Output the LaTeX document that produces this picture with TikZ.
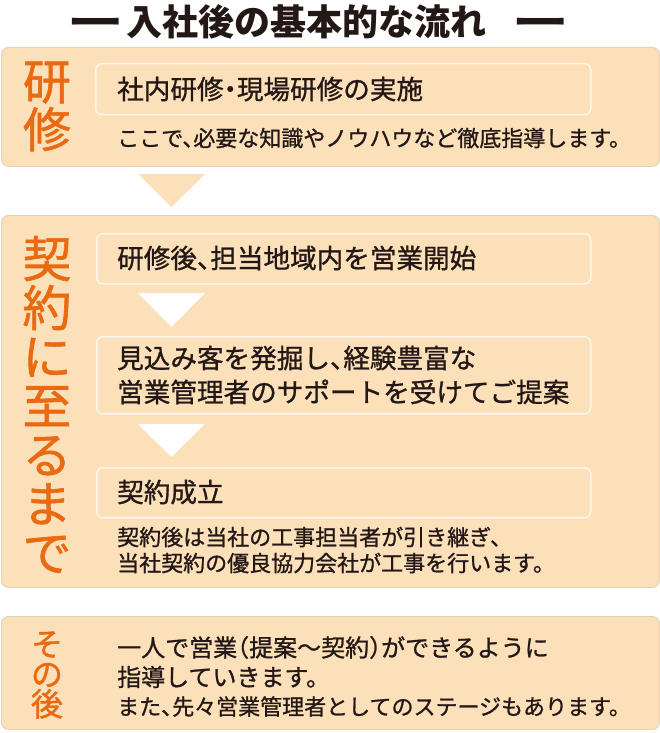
\documentclass[tikz,border=0pt]{standalone}
\usepackage{graphicx}
\usepackage{fontspec}
\newfontfamily\jp{Noto Sans CJK JP}
\newfontfamily\jpm{Noto Sans CJK JP}[FakeBold=1.0, RawFeature=+halt]
\newfontfamily\jpl{Noto Sans CJK JP}[FakeBold=1.2]
\definecolor{peach}{HTML}{FCE0BA}
\definecolor{edgec}{HTML}{E4D2BA}
\definecolor{orangec}{HTML}{EA6A12}
\definecolor{textc}{HTML}{231815}
\definecolor{innerline}{HTML}{FFF6EA}
\newcommand{\titlebar}{\scalebox{1.57}[1]{ー}}
\tikzset{
  outerbox/.style={draw=edgec, line width=0.9pt, fill=peach, rounded corners=7pt,
    anchor=north west, inner sep=0pt},
  innerbox/.style={draw=innerline, line width=1.5pt, fill=peach, rounded corners=6pt,
    anchor=north west, inner sep=0pt},
  sidelabel/.style={text=orangec, align=center, inner sep=0pt, anchor=center},
  boxtext/.style={text=textc, anchor=base west, inner sep=0pt,
    font=\jpm\fontsize{26.6}{26.6}\selectfont},
  subtext/.style={text=textc, anchor=base west, inner sep=0pt,
    font=\jpm\fontsize{22}{22}\selectfont},
  bigtext/.style={text=textc, anchor=base west, inner sep=0pt,
    font=\jpm\fontsize{24}{24}\selectfont},
  peachtri/.style={fill=peach},
  whitetri/.style={fill=white},
}
\begin{document}
\begin{tikzpicture}[x=1pt,y=-1pt]
\useasboundingbox[fill=white] (0,0) rectangle (660,733);

% title
\node[text=textc, inner sep=0pt, anchor=base west, font=\jp\bfseries\fontsize{36}{36}\selectfont]
  (title) at (66.8,35.7) {\titlebar\hspace{3pt}入社後の基本的な流れ\hspace{25.5pt}\titlebar};

% box 1
\node[outerbox, minimum width=658pt, minimum height=119pt] (b1) at (1,47) {};
\node[innerbox, minimum width=495pt, minimum height=51pt] (i1) at (95,63) {};
\node[sidelabel, font=\jpl\fontsize{48}{48}\selectfont] (l1) at (47,106.5) {研\\修};
\node[boxtext] (t1) at (117,99.1) {社内研修・現場研修の実施};
\node[subtext] (s1) at (117,146.4) {ここで、必要な知識やノウハウなど徹底指導します。};

% arrow between box 1 and box 2
\fill[peachtri] (138,174) -- (205,174) -- (171.5,207) -- cycle;

% box 2
\node[outerbox, minimum width=658pt, minimum height=372pt] (b2) at (1,215) {};
\node[innerbox, minimum width=494pt, minimum height=50pt] (i2a) at (96,233) {};
\node[innerbox, minimum width=494pt, minimum height=77pt] (i2b) at (96,336) {};
\node[innerbox, minimum width=494pt, minimum height=50pt] (i2c) at (96,467) {};
\fill[whitetri] (138,293) -- (205,293) -- (171.5,327) -- cycle;
\fill[whitetri] (138,424) -- (205,424) -- (171.5,457) -- cycle;
\node[sidelabel, font={\jpl\fontsize{49}{49}\selectfont\lineskiplimit=-50pt}] (l2) at (47,404.5)
  {契\\約\\に\\至\\る\\ま\\で};
\node[boxtext] (t2a) at (117,268.1) {研修後、担当地域内を営業開始};
\node[boxtext] (t2b1) at (117,368.1) {見込み客を発掘し、経験豊富な};
\node[boxtext] (t2b2) at (117,402.1) {営業管理者のサポートを受けてご提案};
\node[boxtext] (t2c) at (117,502.1) {契約成立};
\node[subtext] (s2a) at (117,545.4) {契約後は当社の工事担当者が引き継ぎ、};
\node[subtext] (s2b) at (117,571.4) {当社契約の優良協力会社が工事を行います。};

% box 3
\node[outerbox, minimum width=658pt, minimum height=113pt] (b3) at (1,616) {};
\node[sidelabel, font={\jpl\fontsize{32}{30}\selectfont\lineskiplimit=-50pt}] (l3) at (47,675) {そ\\の\\後};
\node[bigtext] (s3a) at (117,656.6) {一人で営業（提案〜契約）ができるように};
\node[bigtext] (s3b) at (117,686.1) {指導していきます。};
\node[subtext] (s3c) at (117,714.9) {また、先々営業管理者としてのステージもあります。};
\end{tikzpicture}
\end{document}
